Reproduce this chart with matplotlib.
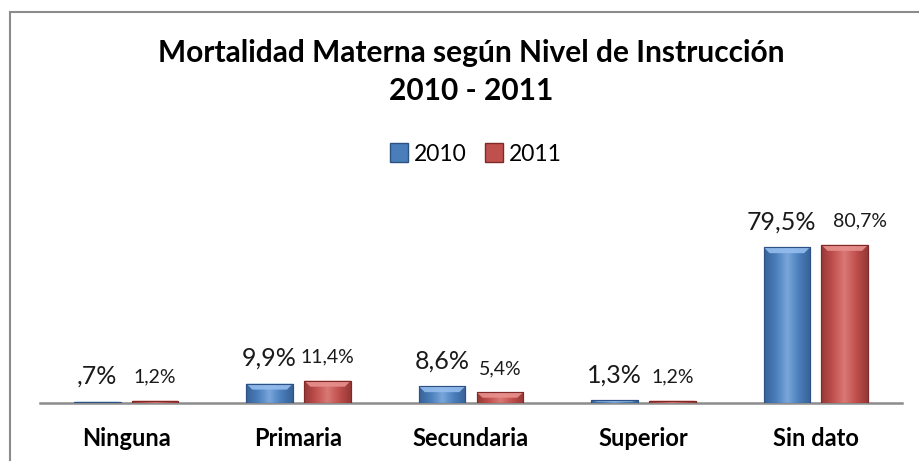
import numpy as np
import matplotlib.pyplot as plt
from matplotlib.patches import Rectangle, Polygon, Patch
from matplotlib.colors import LinearSegmentedColormap

categorias = ['Ninguna', 'Primaria', 'Secundaria', 'Superior', 'Sin dato']
valores_2010 = [0.7, 9.9, 8.6, 1.3, 79.5]
valores_2011 = [1.2, 11.4, 5.4, 1.2, 80.7]
etiquetas_2010 = [',7%', '9,9%', '8,6%', '1,3%', '79,5%']
etiquetas_2011 = ['1,2%', '11,4%', '5,4%', '1,2%', '80,7%']

plt.rcParams['font.family'] = ['Lato', 'DejaVu Sans']

W, H = 919, 461
fig = plt.figure(figsize=(W / 100, H / 100), dpi=100)
fig.patch.set_facecolor('white')

# borde del grafico (se corta a la derecha y abajo)
fig.add_artist(Rectangle((10 / W, -0.1), 1.2, 1 - 12 / H + 0.1, transform=fig.transFigure,
                         fill=False, edgecolor='#8c8c8c', lw=1.5))

ax = fig.add_axes([40 / W, 58 / H, 862 / W, 176.4 / H])
ax.set_xlim(-0.5, 4.5)
ax.set_ylim(0, 90)

# pixeles por unidad para el bisel
px_x = 862 / 5
px_y = 176.4 / 90


def barra(x, h, ancho, color, claro, oscuro):
    rect = ax.bar(x, h, ancho, color=color, edgecolor=oscuro, lw=0.8, zorder=2)[0]
    grad = np.linspace(0, 1, 64)
    grad = 1 - np.abs(grad - 0.5) * 2
    grad = np.vstack([grad, grad])
    cmap = LinearSegmentedColormap.from_list('g', [oscuro, color, claro])
    im = ax.imshow(grad, extent=[x - ancho / 2, x + ancho / 2, 0, h], aspect='auto',
                   cmap=cmap, vmin=-0.3, vmax=1.3, zorder=3)
    im.set_clip_path(rect)
    d = 6
    dx = d / px_x
    dy = min(d / px_y, h * 0.5)
    x0, x1 = x - ancho / 2, x + ancho / 2
    top = Polygon([(x0, h), (x1, h), (x1 - dx, h - dy), (x0 + dx, h - dy)],
                  closed=True, facecolor=claro, edgecolor='none', zorder=4, alpha=0.9)
    ax.add_patch(top)
    ax.add_patch(Rectangle((x0, 0), ancho, h, fill=False, edgecolor=oscuro, lw=0.8, zorder=5))


x = np.arange(len(categorias))
ancho = 0.27
off = 0.168
# en "Sin dato" las etiquetas se separan para que no se pisen
sep = {4: (-4, 11)}
for i in range(len(categorias)):
    s1, s2 = sep.get(i, (0, 0))
    barra(x[i] - off, valores_2010[i], ancho, '#4a7ebb', '#95bdee', '#2c5182')
    barra(x[i] + off, valores_2011[i], ancho, '#c0504d', '#e8918e', '#7e2a28')
    ax.annotate(etiquetas_2010[i], (x[i] - off, valores_2010[i]), xytext=(s1, 13),
                textcoords='offset points', ha='center', va='baseline', fontsize=18, color='#1a1a1a')
    ax.annotate(etiquetas_2011[i], (x[i] + off, valores_2011[i]), xytext=(s2, 13),
                textcoords='offset points', ha='center', va='baseline', fontsize=14, color='#1a1a1a')

for s in ['top', 'right', 'left']:
    ax.spines[s].set_visible(False)
ax.spines['bottom'].set_color('#8c8c8c')
ax.spines['bottom'].set_linewidth(1.8)
ax.set_yticks([])
ax.set_xticks(x)
ax.set_xticklabels(categorias, fontsize=17, fontweight='bold')
ax.tick_params(axis='x', length=0, pad=17)

fig.text(471 / W, 1 - 53 / H, 'Mortalidad Materna según Nivel de Instrucción',
         ha='center', va='center', fontsize=21.5, fontweight='bold')
fig.text(471 / W, 1 - 91 / H, '2010 - 2011', ha='center', va='center', fontsize=21.5, fontweight='bold')

handles = [Patch(facecolor='#4a7ebb', edgecolor='#2c5182', label='2010'),
           Patch(facecolor='#c0504d', edgecolor='#7e2a28', label='2011')]
fig.legend(handles=handles, loc='center', bbox_to_anchor=(476 / W, 1 - 154 / H), ncol=2,
           frameon=False, fontsize=16.5, handlelength=0.8, handleheight=0.9,
           handletextpad=0.25, columnspacing=0.8)

fig.savefig('out.png', dpi=100)
